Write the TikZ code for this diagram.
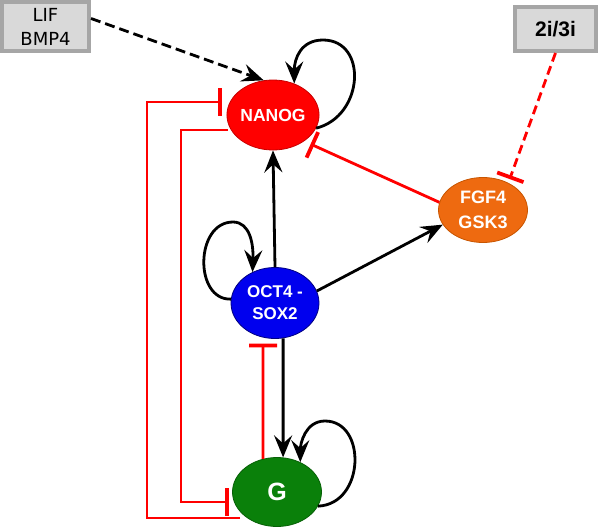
\documentclass[tikz,border=0pt]{standalone}
\usepackage{fontspec}
\newfontfamily\lsans{Liberation Sans}
\newfontfamily\dsans{DejaVu Sans}
\usetikzlibrary{arrows.meta,shapes.geometric}
\definecolor{nred}{HTML}{FF0000}
\definecolor{nredb}{HTML}{C80000}
\definecolor{oblue}{HTML}{0000EE}
\definecolor{oblueb}{HTML}{000080}
\definecolor{ggreen}{HTML}{0A800A}
\definecolor{ggreenb}{HTML}{066006}
\definecolor{forange}{HTML}{EE6A10}
\definecolor{forangeb}{HTML}{C85500}
\definecolor{boxfill}{HTML}{D9D9D9}
\definecolor{boxline}{HTML}{A6A6A6}
\tikzset{
  gene/.style={ellipse, draw, line width=0.8pt, text=white, font=\lsans\bfseries\fontsize{17}{22}\selectfont, align=center, inner sep=0pt},
  ctrlbox/.style={rectangle, draw=boxline, fill=boxfill, line width=4pt, inner sep=0pt, align=center},
  act/.style={draw=black, line width=2.8pt, -{Stealth[length=22pt,width=18pt,inset=8pt]}},
  inh/.style={draw=nred, line width=2.8pt, -{Bar[width=28pt,line width=3.8pt]}},
  loopact/.style={draw=black, line width=2.8pt, -{Stealth[length=22pt,width=18pt,inset=8pt]}},
}
\begin{document}
\begin{tikzpicture}[x=1pt,y=-1pt]
\useasboundingbox (0,0) rectangle (600,530);
% nodes
\node[ctrlbox, minimum width=87pt, minimum height=49pt, font=\dsans\fontsize{18}{24}\selectfont] (lif) at (45.5,26.5) {LIF\\BMP4};
\node[ctrlbox, minimum width=81pt, minimum height=44pt, font=\lsans\bfseries\fontsize{21}{24}\selectfont] (inhib) at (555.5,29) {2i/3i};
\node[gene, fill=nred, draw=nredb, minimum width=88pt, minimum height=70pt, font=\lsans\bfseries\fontsize{17.5}{22}\selectfont] (nanog) at (273,115) {NANOG};
\node[gene, fill=oblue, draw=oblueb, minimum width=88pt, minimum height=71pt] (oct) at (275,303) {OCT4 -\\SOX2};
\node[gene, fill=forange, draw=forangeb, minimum width=89pt, minimum height=65pt, font=\lsans\bfseries\fontsize{18}{25}\selectfont] (fgf) at (483,210) {FGF4\\GSK3};
\node[gene, fill=ggreen, draw=ggreenb, minimum width=89pt, minimum height=69pt, font=\lsans\bfseries\fontsize{25}{25}\selectfont] (g) at (277,492) {G};
% connectors
\draw[act, dash pattern=on 10pt off 5pt] (lif.10) -- (nanog.105);
\draw[inh, dash pattern=on 9pt off 5pt, shorten >=4pt] (inhib.south) -- (fgf.47);
\draw[loopact] (nanog.-17) .. controls +(48,-12) and +(45,0) .. ([xshift=50pt,yshift=75pt]nanog.center) .. controls +(-22,0) and +(0,-25) .. (nanog.56);
\draw[inh, shorten >=7pt] (fgf.170) -- (nanog.-40);
\draw[act] (oct.north) -- (nanog.south);
\draw[act] (oct.16) -- (fgf.200);
\draw[loopact] (oct.175) .. controls +(-37,1) and +(-38,0) .. ([xshift=-42pt,yshift=81pt]oct.center) .. controls +(17,0) and +(1,-28) .. (oct.126);
\draw[act] (oct.-77) -- (g.80);
\draw[inh, shorten >=6pt] (g.113) -- (oct.-109);
\draw[loopact] (g.-19) .. controls +(47,-2) and +(42,0) .. ([xshift=48pt,yshift=71pt]g.center) .. controls +(-20,0) and +(0,-18) .. (g.52);
\draw[inh] ([xshift=-45pt,yshift=-15pt]nanog.center) -- ++(-47,0) |- ([yshift=-10pt,xshift=-3pt]g.west);
\draw[inh] ([xshift=-37pt,yshift=-26pt]g.center) -- ++(-93,0) |- ([yshift=13pt,xshift=-5pt]nanog.west);
\end{tikzpicture}
\end{document}
